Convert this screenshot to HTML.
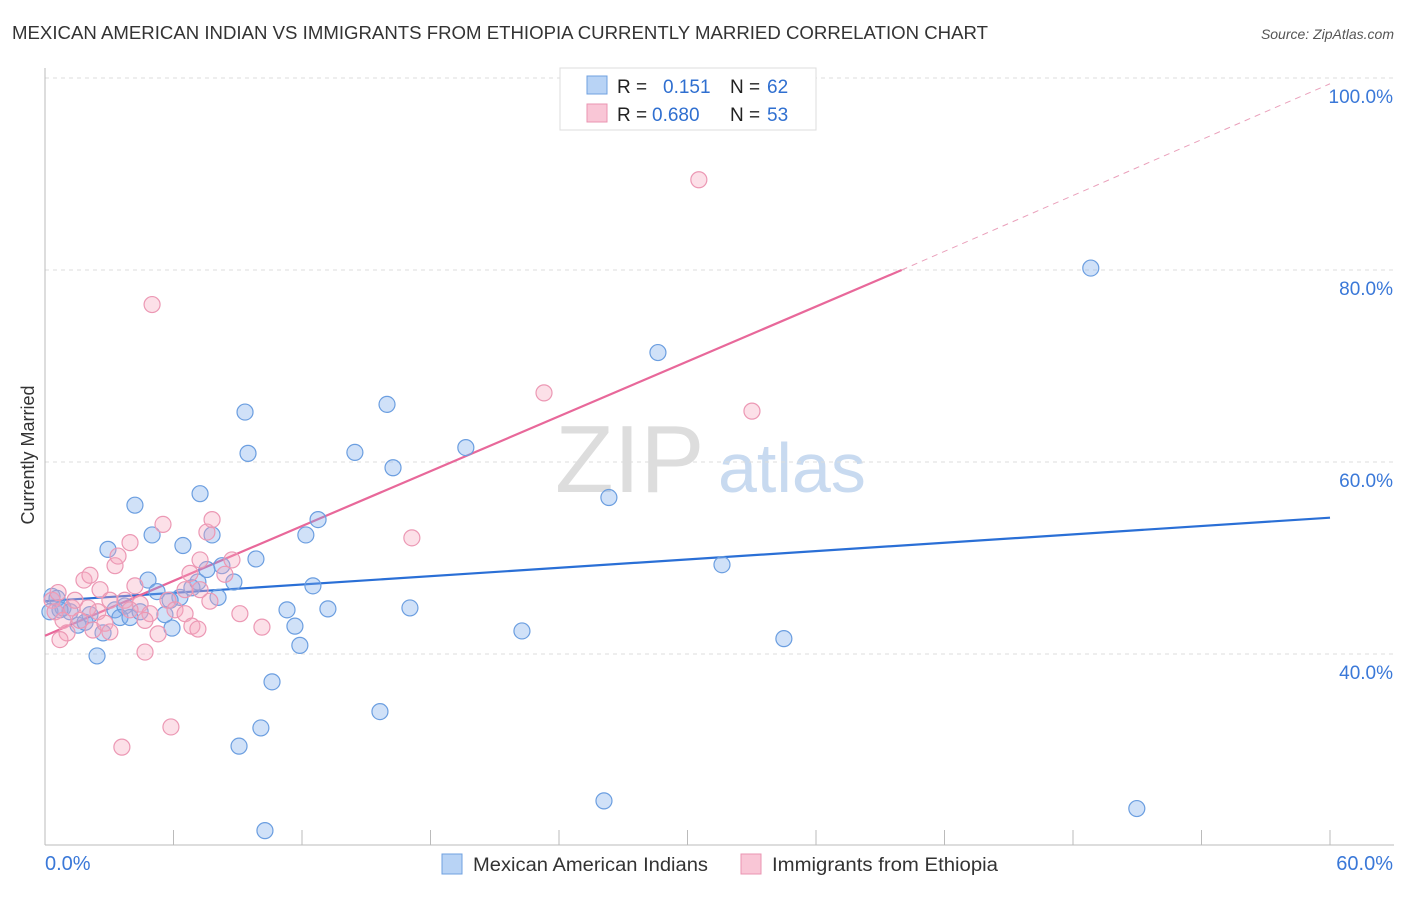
<!DOCTYPE html>
<html><head><meta charset="utf-8"><style>
body{margin:0;background:#fff;font-family:"Liberation Sans",sans-serif;}
svg text{font-family:"Liberation Sans",sans-serif;}
</style></head><body>
<svg id="chart" width="1406" height="892">
<text x="12" y="39" font-size="18" fill="#333" textLength="976" lengthAdjust="spacingAndGlyphs">MEXICAN AMERICAN INDIAN VS IMMIGRANTS FROM ETHIOPIA CURRENTLY MARRIED CORRELATION CHART</text>
<text x="1394" y="39" font-size="14" fill="#555" font-style="italic" text-anchor="end">Source: ZipAtlas.com</text>
<text x="34" y="455" font-size="18" fill="#333" text-anchor="middle" transform="rotate(-90 34 455)">Currently Married</text>
<text x="555" y="492" font-size="96" fill="#ddd" font-family="Liberation Serif">ZIP</text>
<text x="718" y="492" font-size="70" fill="#c8daf0">atlas</text>
<g id="grid"></g><g id="axes"></g><g id="lines"></g><g id="pts"></g>
<g>
<rect x="560" y="68" width="256" height="62" fill="#fff" stroke="#ddd"/>
<rect x="587" y="76" width="20" height="18" fill="#b8d3f5" stroke="#6fa0e0"/>
<rect x="587" y="104" width="20" height="18" fill="#f9c6d6" stroke="#ea94b2"/>
<text x="617" y="93" font-size="19" fill="#222">R =</text>
<text x="663" y="93" font-size="19" fill="#2f6fd0">0.151</text>
<text x="730" y="93" font-size="19" fill="#222">N =</text>
<text x="767" y="93" font-size="19" fill="#2f6fd0">62</text>
<text x="617" y="121" font-size="19" fill="#222">R =</text>
<text x="652" y="121" font-size="19" fill="#2f6fd0">0.680</text>
<text x="730" y="121" font-size="19" fill="#222">N =</text>
<text x="767" y="121" font-size="19" fill="#2f6fd0">53</text>
</g>
<g>
<rect x="442" y="854" width="20" height="20" fill="#b8d3f5" stroke="#6fa0e0"/>
<text x="473" y="871" font-size="19" fill="#333" textLength="235" lengthAdjust="spacingAndGlyphs">Mexican American Indians</text>
<rect x="741" y="854" width="20" height="20" fill="#f9c6d6" stroke="#ea94b2"/>
<text x="772" y="871" font-size="19" fill="#333" textLength="226" lengthAdjust="spacingAndGlyphs">Immigrants from Ethiopia</text>
</g>
</svg>
<script>
const yTicks=[40,60,80,100];
const yTickLabels=["40.0%","60.0%","80.0%","100.0%"];
const xTicks=[0,6,12,18,24,30,36,42,48,54,60];
const blueX=[0.33,0.56,0.23,0.84,1.17,1.54,1.87,2.43,2.71,2.94,3.27,3.50,3.73,3.97,4.20,4.44,4.81,5.00,5.23,5.60,5.93,6.30,6.44,6.86,7.14,7.24,7.56,7.80,8.08,8.26,8.82,9.06,9.34,9.48,9.85,10.08,10.27,10.60,11.30,11.67,11.90,12.18,12.51,12.75,13.21,14.47,15.64,15.97,16.25,17.04,19.65,22.27,26.10,26.33,28.62,31.61,34.50,48.83,50.98,0.70,2.10,5.84];
const blueY=[46.0,45.8,44.4,44.8,44.4,43.0,43.3,39.8,42.2,50.9,44.6,43.8,45.0,43.8,55.5,44.4,47.7,52.4,46.5,44.1,42.7,45.9,51.3,46.9,47.5,56.7,48.8,52.4,45.9,49.2,47.5,30.4,65.2,60.9,49.9,32.3,21.6,37.1,44.6,42.9,40.9,52.4,47.1,54.0,44.7,61.0,34.0,66.0,59.4,44.8,61.5,42.4,24.7,56.3,71.4,49.3,41.6,80.2,23.9,44.6,44.1,45.6];
const pinkX=[0.33,0.47,0.61,0.84,1.03,1.26,1.40,1.82,2.10,2.24,2.47,2.57,2.80,3.03,3.27,3.41,3.73,3.97,4.20,4.44,4.67,4.90,5.00,5.28,5.51,5.74,5.88,6.07,6.54,6.77,6.86,7.14,7.24,7.56,7.70,7.80,8.40,8.73,9.10,10.13,3.59,17.13,23.30,30.53,33.01,2.01,1.63,3.03,4.67,7.24,0.70,6.54,3.97];
const pinkY=[45.6,44.4,46.4,43.5,42.2,44.8,45.6,47.7,48.2,42.5,44.4,46.7,43.2,42.3,49.2,50.2,45.6,51.6,47.1,45.2,40.2,44.2,76.4,42.1,53.5,45.6,32.4,44.6,44.2,48.4,42.9,42.6,46.7,52.7,45.5,54.0,48.3,49.8,44.2,42.8,30.3,52.1,67.2,89.4,65.3,44.8,43.5,45.6,43.5,49.8,41.5,46.7,44.6];
const blueLine=[45.5,54.2];
const pinkLine=[41.9,80,99.4];
const pinkLineX=[0,40,60];
const NS="http://www.w3.org/2000/svg";
const sx=v=>45+v*(1285/60);
const sy=v=>654-(v-40)*9.6;
function mk(tag,attrs,parent){const e=document.createElementNS(NS,tag);for(const k in attrs)e.setAttribute(k,attrs[k]);document.getElementById(parent).appendChild(e);return e;}
yTicks.forEach((t,i)=>{
 const g=mk('line',{x1:45,x2:1394,y1:sy(t),y2:sy(t),stroke:'#ddd','stroke-dasharray':'4,4'},'grid');
 
 
 const l=mk('text',{x:1393,y:sy(t)+25,'font-size':19,fill:'#3a78d8','text-anchor':'end'},'axes');
 l.textContent=yTickLabels[i];
 
 
});
const ax=mk('line',{x1:45,x2:45,y1:68,y2:845,stroke:'#bbb'},'axes');


const bx=mk('line',{x1:45,x2:1394,y1:845,y2:845,stroke:'#bbb'},'axes');


xTicks.forEach(t=>{
 const k=mk('line',{x1:sx(t),x2:sx(t),y1:830,y2:845,stroke:'#bbb'},'axes');
 
 
});
const xl0=mk('text',{x:45,y:870,'font-size':20,fill:'#3a78d8'},'axes');xl0.textContent='0.0%';


const xl1=mk('text',{x:1393,y:870,'font-size':20,fill:'#3a78d8','text-anchor':'end'},'axes');xl1.textContent='60.0%';


blueX.forEach((x,i)=>{
 const c=mk('circle',{cx:sx(x),cy:sy(blueY[i]),r:8,fill:'rgba(120,170,235,0.35)',stroke:'#6b9ee0','stroke-width':1.2},'pts');
 
 
});
pinkX.forEach((x,i)=>{
 const c=mk('circle',{cx:sx(x),cy:sy(pinkY[i]),r:8,fill:'rgba(245,165,190,0.35)',stroke:'#ec98b4','stroke-width':1.2},'pts');
 
 
});
const bl=mk('line',{x1:sx(0),y1:sy(blueLine[0]),x2:sx(60),y2:sy(blueLine[1]),stroke:'#2a6fd6','stroke-width':2.2},'lines');


const pl=mk('line',{x1:sx(pinkLineX[0]),y1:sy(pinkLine[0]),x2:sx(pinkLineX[1]),y2:sy(pinkLine[1]),stroke:'#e8689a','stroke-width':2.2},'lines');


const pd=mk('line',{x1:sx(pinkLineX[1]),y1:sy(pinkLine[1]),x2:sx(pinkLineX[2]),y2:sy(pinkLine[2]),stroke:'#eaa0bb','stroke-width':1,'stroke-dasharray':'6,5'},'lines');


</script>
</body></html>
